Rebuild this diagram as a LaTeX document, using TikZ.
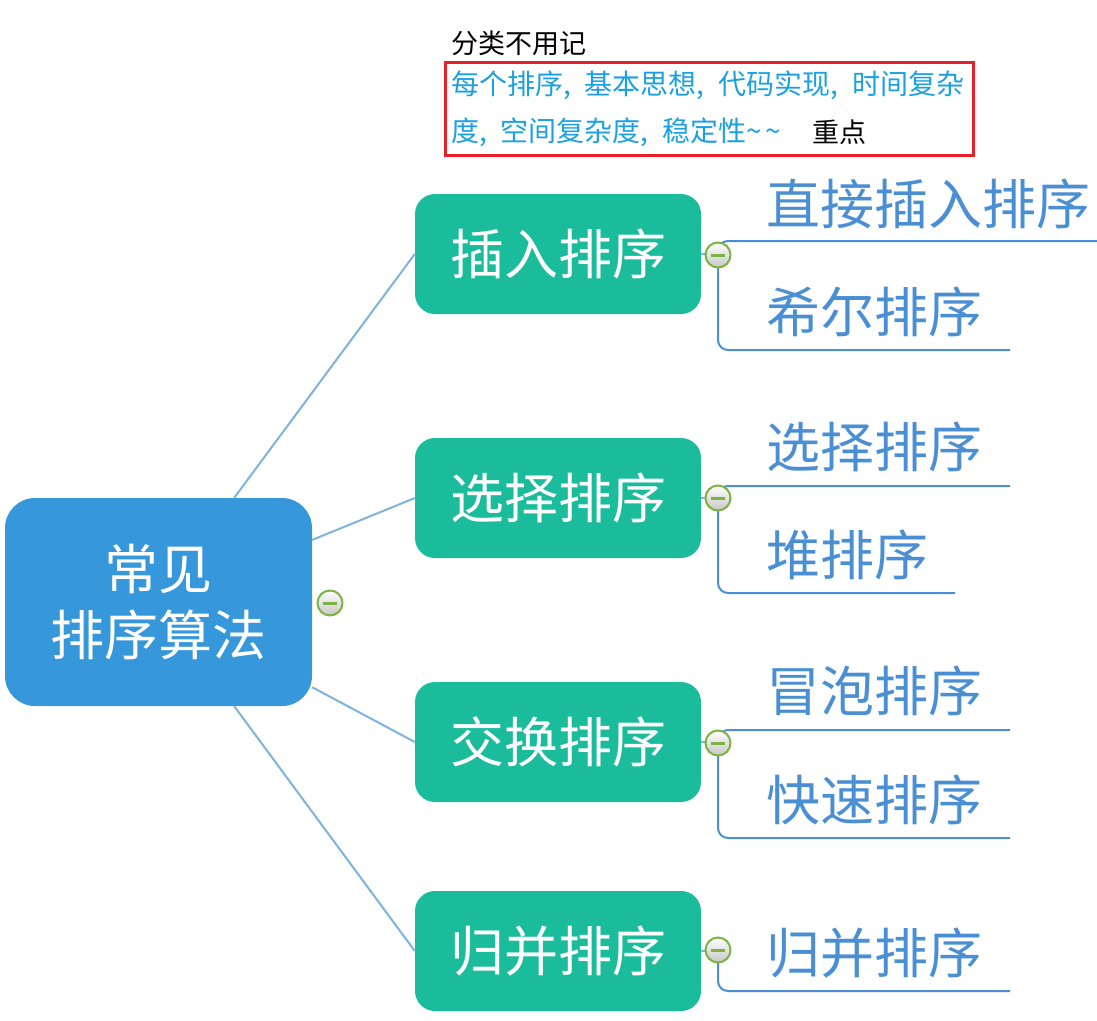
\documentclass[tikz,border=0pt]{standalone}
\usepackage{fontspec}
\setmainfont{Noto Sans CJK SC}
\usepackage{tikz}
\usetikzlibrary{calc,positioning}
\definecolor{rootblue}{HTML}{3797DB}
\definecolor{tealx}{HTML}{1ABC9C}
\definecolor{linkx}{HTML}{7FB3DE}
\definecolor{leafx}{HTML}{4A8FD4}
\definecolor{notex}{HTML}{1BA1E2}
\definecolor{redx}{HTML}{E8202A}
\definecolor{foldx}{HTML}{7CB342}
\newcommand{\cm}{,\hspace{14pt}}
\tikzset{
  root/.style={fill=rootblue,rounded corners=30pt,minimum width=307pt,minimum height=208pt,text=white,align=center,font=\fontsize{54}{66}\selectfont},
  topic/.style={fill=tealx,rounded corners=20pt,minimum width=286pt,minimum height=120pt,text=white,font=\fontsize{54}{60}\selectfont},
  leaf/.style={anchor=west,text=leafx,inner sep=0pt,font=\fontsize{54}{60}\selectfont},
  link/.style={linkx,line width=2pt},
  sub/.style={leafx,line width=2pt,rounded corners=10pt},
  fold/.style={circle,draw=foldx,line width=2pt,minimum size=25pt,inner sep=0pt,top color=white,bottom color=black!22,
    path picture={\draw[foldx,line width=3pt] ($(path picture bounding box.center)+(-7,0)$)--($(path picture bounding box.center)+(7,0)$);}},
  note/.style={anchor=west,inner sep=0pt,font=\fontsize{28}{30}\selectfont}
}
\begin{document}
\begin{tikzpicture}[x=1pt,y=-1pt]
\useasboundingbox (0,0) rectangle (1097,1020);

\node[note,font=\fontsize{27}{30}\selectfont] (n0) at (451,43) {分类不用记};
\node[note,text=notex] (n1) at (451,85) {每个排序\cm 基本思想\cm 代码实现\cm 时间复杂};
\node[note,text=notex] (n2) at (451,132) {度\cm 空间复杂度\cm 稳定性\textasciitilde\hspace{3pt}\textasciitilde};
\node[note,font=\fontsize{27}{30}\selectfont] (n3) at (812,132) {重点};
\draw[redx,line width=3pt] (445,62) rectangle (973,155);

\node[root] (root) at (158.5,602) {常见\\排序算法};
\node[topic] (b1) at (558,254) {插入排序};
\node[topic] (b2) at (558,498) {选择排序};
\node[topic] (b3) at (558,742) {交换排序};
\node[topic] (b4) at (558,951) {归并排序};

\draw[link] (root.54) -- (b1.west);
\draw[link] (root.22) -- (b2.west);
\draw[link] (root.-29) -- (b3.west);
\draw[link] (root.-54) -- (b4.west);

\coordinate (k1) at (718,255);
\coordinate (k2) at (718,498);
\coordinate (k3) at (718,743);
\coordinate (k4) at (718,950);
\foreach \i in {1,...,4} \draw[link] (b\i.east) -- (k\i);

\coordinate (e11) at (1100,241);
\coordinate (e12) at (1010,350);
\coordinate (e21) at (1010,486);
\coordinate (e22) at (955,593);
\coordinate (e31) at (1010,730);
\coordinate (e32) at (1010,838);
\coordinate (e41) at (1010,991);
\draw[sub] (k1) |- (e11);
\draw[sub] (k1) |- (e12);
\draw[sub] (k2) |- (e21);
\draw[sub] (k2) |- (e22);
\draw[sub] (k3) |- (e31);
\draw[sub] (k3) |- (e32);
\draw[sub] (k4) |- (e41);

\node[leaf] (l11) at (766,204) {直接插入排序};
\node[leaf] (l12) at (766,312) {希尔排序};
\node[leaf] (l21) at (766,447) {选择排序};
\node[leaf] (l22) at (766,555) {堆排序};
\node[leaf] (l31) at (766,691) {冒泡排序};
\node[leaf] (l32) at (766,800) {快速排序};
\node[leaf] (l41) at (766,953) {归并排序};

\node[fold] (f0) at (330,603) {};
\foreach \i in {1,...,4} \node[fold] (f\i) at (k\i) {};
\end{tikzpicture}
\end{document}
